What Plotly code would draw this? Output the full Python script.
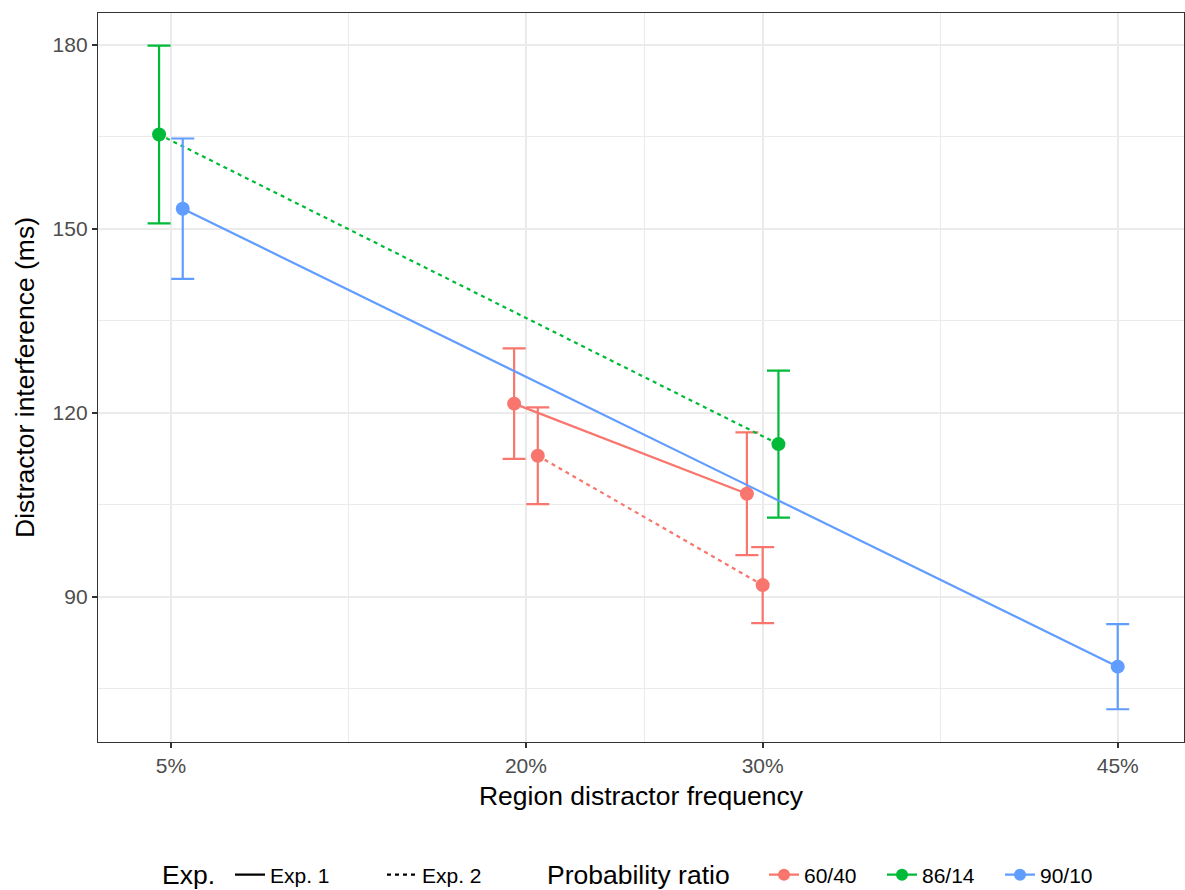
import plotly.graph_objects as go

# Mean distractor interference (ms) with 95% CI half-widths, per probability ratio and experiment
freq_6040_exp1 = [20, 30]
mean_6040_exp1 = [121.5, 106.8]
ci_6040_exp1 = [9.0, 10.0]

freq_6040_exp2 = [20, 30]
mean_6040_exp2 = [113.0, 91.9]
ci_6040_exp2 = [7.9, 6.2]

freq_8614_exp2 = [5, 30]
mean_8614_exp2 = [165.4, 114.9]
ci_8614_exp2 = [14.5, 12.0]

freq_9010_exp1 = [5, 45]
mean_9010_exp1 = [153.3, 78.6]
ci_9010_exp1 = [11.45, 6.95]

x_ticks = [5, 20, 30, 45]
x_tick_labels = ["5%", "20%", "30%", "45%"]
y_ticks = [90, 120, 150, 180]

ratios = ["60/40", "86/14", "90/10"]
experiments = ["Exp. 1", "Exp. 2"]
colors = {"60/40": "#F8766D", "86/14": "#00BA38", "90/10": "#619CFF"}
dashes = {"Exp. 1": "solid", "Exp. 2": "4px,4px"}

groups = [
    ("60/40", "Exp. 1", freq_6040_exp1, mean_6040_exp1, ci_6040_exp1),
    ("60/40", "Exp. 2", freq_6040_exp2, mean_6040_exp2, ci_6040_exp2),
    ("86/14", "Exp. 2", freq_8614_exp2, mean_8614_exp2, ci_8614_exp2),
    ("90/10", "Exp. 1", freq_9010_exp1, mean_9010_exp1, ci_9010_exp1),
]

# Dodge groups sharing an x position (total dodge width of 2 x-units)
DODGE_WIDTH = 2.0
members = {}
for gi, g in enumerate(groups):
    for x in g[2]:
        members.setdefault(x, []).append(gi)


def dodged(gi, x):
    ids = members[x]
    n = len(ids)
    k = ids.index(gi)
    return x + (k - (n - 1) / 2) * DODGE_WIDTH / n


FONT = "Liberation Sans, Arial, sans-serif"
fig = go.Figure()

for gi, (ratio, exp, xs, ys, ci) in enumerate(groups):
    col = colors[ratio]
    fig.add_trace(go.Scatter(
        x=[dodged(gi, x) for x in xs], y=ys,
        mode="lines+markers",
        line=dict(color=col, width=2.2, dash=dashes[exp]),
        marker=dict(color=col, size=14),
        error_y=dict(type="data", array=ci, symmetric=True,
                     color=col, thickness=2.2, width=11.5),
        showlegend=False, hoverinfo="skip",
    ))

# Legend entries: line type by experiment
for exp in experiments:
    fig.add_trace(go.Scatter(
        x=[None], y=[None], mode="lines", name=exp,
        line=dict(color="black", width=2.2, dash=dashes[exp]),
        legend="legend",
    ))

# Legend entries: colour by probability ratio
for ratio in ratios:
    fig.add_trace(go.Scatter(
        x=[None], y=[None], mode="lines+markers", name=ratio,
        line=dict(color=colors[ratio], width=2.2),
        marker=dict(color=colors[ratio], size=12),
        legend="legend2",
    ))

axis_common = dict(
    showline=True, linecolor="#333333", linewidth=1.3, mirror=True,
    showgrid=True, gridcolor="#EBEBEB", gridwidth=2,
    ticks="outside", ticklen=5, tickwidth=2, tickcolor="#333333",
    tickfont=dict(family=FONT, size=21, color="#4D4D4D"),
    zeroline=False,
)

PLOT_L, PLOT_R, PLOT_T, PLOT_B = 98, 1184, 13, 742
W, H = 1185, 890


def px_x(p):
    return (p - PLOT_L) / (PLOT_R - PLOT_L)


def px_y(p):
    return (PLOT_B - p) / (PLOT_B - PLOT_T)


LEGEND_Y = 875

legend_common = dict(
    orientation="h", yref="container", y=(H - LEGEND_Y) / H,
    xanchor="left", yanchor="middle",
    font=dict(family=FONT, size=21, color="black"),
    bgcolor="rgba(0,0,0,0)",
)

fig.update_layout(
    width=W, height=H,
    margin=dict(l=PLOT_L, r=W - PLOT_R, t=PLOT_T, b=H - PLOT_B, autoexpand=False),
    paper_bgcolor="white", plot_bgcolor="white",
    font=dict(family=FONT, color="black"),
    xaxis=dict(
        **axis_common,
        range=[1.92, 47.8],
        tickvals=x_ticks, ticktext=x_tick_labels,
        minor=dict(tickvals=[12.5, 25, 37.5], showgrid=True,
                   gridcolor="#EBEBEB", gridwidth=1, ticks=""),
        title=dict(text="Region distractor frequency",
                   font=dict(family=FONT, size=26.5, color="black"),
                   standoff=10),
    ),
    yaxis=dict(
        **axis_common,
        range=[66.31, 185.22],
        tickvals=y_ticks,
        minor=dict(tickvals=[75, 105, 135, 165], showgrid=True,
                   gridcolor="#EBEBEB", gridwidth=1, ticks=""),
        title=dict(text="Distractor interference (ms)",
                   font=dict(family=FONT, size=26.5, color="black"),
                   standoff=10),
    ),
    legend=dict(**legend_common, x=px_x(230), entrywidth=107),
    legend2=dict(**legend_common, x=px_x(764), entrywidth=73),
    annotations=[
        dict(text="Exp.", xref="paper", yref="paper", x=px_x(160), y=px_y(LEGEND_Y),
             xanchor="left", yanchor="middle", showarrow=False,
             font=dict(family=FONT, size=26.5, color="black")),
        dict(text="Probability ratio", xref="paper", yref="paper", x=px_x(545),
             y=px_y(LEGEND_Y), xanchor="left", yanchor="middle", showarrow=False,
             font=dict(family=FONT, size=26.5, color="black")),
    ],
)

fig.write_html("out.html")
